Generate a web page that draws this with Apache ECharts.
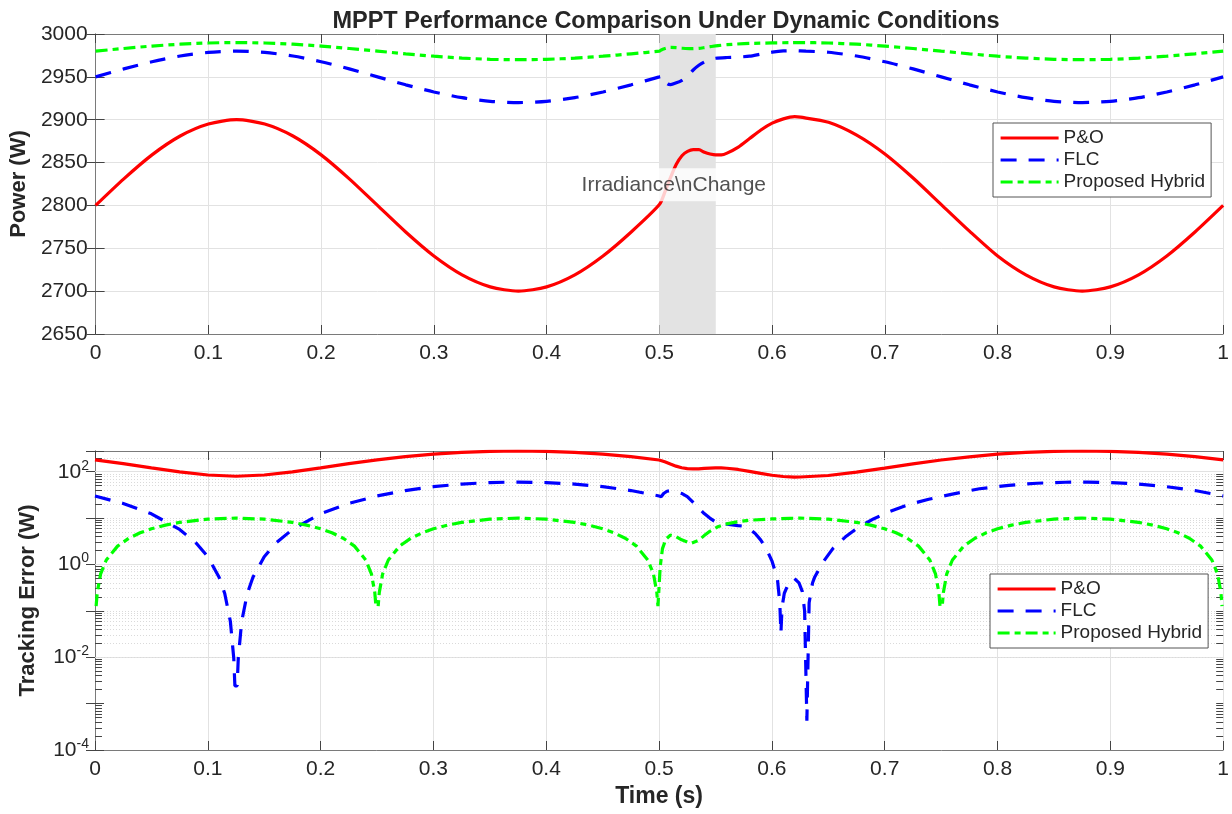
<!DOCTYPE html>
<html>
<head>
<meta charset="utf-8">
<script src="https://cdn.jsdelivr.net/npm/echarts@6/dist/echarts.min.js"></script>
<style>
  html, body { margin: 0; padding: 0; background: #fff; }
  #chart { width: 1232px; height: 814px; }
</style>
</head>
<body>
<div id="chart"></div>
<script>
// ---------------- DATA ----------------
const titleText = 'MPPT Performance Comparison Under Dynamic Conditions';
const seriesNames = ['P&O', 'FLC', 'Proposed Hybrid'];
const xTicks = [0, 1, 0.1];              // min, max, step of the time axis
const powerTicks = [2650, 3000, 50];     // min, max, step of the power axis
const errorRange = [1e-4, 280];          // log axis range of tracking error

// Shaded disturbance window and its annotation
const shadeWindow = [0.5, 0.55];
const annotationText = 'Irradiance\\nChange';
const annotationPos = [0.5128, 2824];

// P&O (time shared by power and error)
const poTime = [0,0.025,0.05,0.075,0.1,0.125,0.15,0.175,0.2,0.225,0.25,0.275,0.3,0.325,0.35,0.375,0.4,0.425,0.45,0.475,0.5,
  0.505,0.51,0.515,0.52,0.525,0.53,0.535,0.54,0.545,0.55,0.555,0.56,
  0.57,0.58,0.59,0.6,0.61,0.62,0.625,
  0.65,0.675,0.7,0.725,0.75,0.775,0.8,0.825,0.85,0.875,0.9,0.925,0.95,0.975,1];
const poPower = [2800,2831,2859,2881,2895,2900,2895,2881,2859,2831,2800,2769,2741,2719,2705,2700,2705,2719,2741,2769,2801,
  2816,2833,2848,2858,2863,2865,2865,2862,2860,2859,2859,2861,
  2868,2878,2888,2896,2901,2903.5,2903,
  2897,2882,2860,2832,2801,2770,2741,2719,2705,2700,2705,2719,2741,2769,2800];
const poError = [180,149,121,99,85,80,85,99,121,149,180,211,239,261,275,280,275,261,239,211,179,
  164,147,132,122,117,115,115,118,120,121,121,119,
  112,102,92,84,79,76.5,77,
  83,98,120,148,179,210,239,261,275,280,275,261,239,211,180];

// FLC power
const flcTime = [0,0.025,0.05,0.075,0.1,0.125,0.15,0.175,0.2,0.225,0.25,0.275,0.3,0.325,0.35,0.375,0.4,0.425,0.45,0.475,0.5,
  0.503,0.507,0.51,0.515,0.52,0.525,0.53,0.535,0.54,0.545,0.55,0.56,0.57,0.58,0.59,0.6,0.61,0.62,0.63,
  0.65,0.675,0.7,0.725,0.75,0.775,0.8,0.825,0.85,0.875,0.9,0.925,0.95,0.975,1];
const flcPower = [2950,2959.3,2967.6,2974.3,2978.5,2980,2978.5,2974.3,2967.6,2959.3,2950,2940.7,2932.4,2925.7,2921.5,2920,2921.5,2925.7,2932.4,2940.7,2950,
  2951,2942,2941,2943,2946,2951,2958,2963.5,2967.5,2970,2971.7,2972.6,2973.1,2974.1,2976.6,2978.8,2980.2,2980.5,2980,
  2978.7,2974.3,2967.6,2959.3,2950,2940.7,2932.4,2925.7,2921.5,2920,2921.5,2925.7,2932.4,2940.7,2950];

// FLC tracking error
const flcErrTime = [0,0.025,0.05,0.075,0.09,0.1,0.11,0.115,0.12,0.123,0.124,0.126,0.127,0.13,0.135,0.14,0.15,0.16,0.175,0.2,0.225,0.25,0.275,0.3,0.325,0.35,0.375,0.4,0.425,0.45,0.475,0.5,
  0.502,0.504,0.507,0.51,0.515,0.52,0.525,0.53,0.535,0.54,0.545,0.55,0.56,0.57,0.575,0.58,0.585,0.59,0.595,0.6,0.603,0.605,0.607,0.608,0.609,0.611,0.615,0.62,0.624,0.627,0.629,0.631,0.633,0.636,0.638,0.645,0.654,0.665,0.676,0.69,0.703,0.72,0.739,0.76,0.784,0.81,0.835,0.86,0.88,0.9,0.925,0.95,0.975,1];
const flcError = [30,20.7,12.4,5.7,2.84,1.47,0.53,0.237,0.059,0.0095,0.0024,0.0024,0.0095,0.059,0.237,0.53,1.47,2.84,5.7,12.4,20.7,30,39.3,47.6,54.3,58.5,60,58.5,54.3,47.6,39.3,30,
  29,34,38,39,37,34,29,22,16.5,12.5,10,8.3,7.4,6.9,6.7,5.9,4.7,3.4,2.2,1.2,0.7,0.46,0.15,0.033,0.12,0.24,0.4,0.5,0.4,0.26,0.1,0.00043,0.15,0.4,0.54,1.1,2.2,3.9,6.2,9.6,13.5,19.2,25.5,33,43,51,56.5,59.3,59.9,58.5,54.3,47.6,39.3,30];

// Proposed hybrid power
const hybTime = [0,0.025,0.05,0.075,0.1,0.125,0.15,0.175,0.2,0.225,0.25,0.275,0.3,0.325,0.35,0.375,0.4,0.425,0.45,0.475,0.5,
  0.501,0.503,0.506,0.51,0.515,0.52,0.528,0.535,0.54,0.545,0.552,0.56,0.569,0.58,0.6,0.616,0.625,
  0.65,0.675,0.7,0.725,0.75,0.775,0.8,0.825,0.85,0.875,0.9,0.925,0.95,0.975,1];
const hybPower = [2980,2983.1,2985.9,2988.1,2989.5,2990,2989.5,2988.1,2985.9,2983.1,2980,2976.9,2974.1,2971.9,2970.5,2970,2970.5,2971.9,2974.1,2976.9,2980,
  2980.9,2982.2,2983.5,2984.3,2984,2983.4,2982.85,2983.3,2984.2,2985.2,2986.5,2987.5,2988.3,2989,2989.6,2989.9,2990,
  2989.5,2988.1,2985.9,2983.1,2980,2976.9,2974.1,2971.9,2970.5,2970,2970.5,2971.9,2974.1,2976.9,2980];

// Proposed hybrid tracking error
const hybErrTime = [0.001,0.002,0.005,0.01,0.02,0.03,0.04,0.05,0.0625,0.075,0.1,0.125,0.15,0.175,0.1875,0.2,0.21,0.22,0.23,0.24,0.245,0.248,0.249,0.251,0.252,0.255,0.26,0.27,0.28,0.29,0.3,0.3125,0.325,0.35,0.375,0.4,0.425,0.4375,0.45,0.46,0.47,0.48,0.49,0.495,0.498,0.499,0.5,
  0.501,0.503,0.506,0.51,0.515,0.52,0.528,0.535,0.54,0.545,0.552,0.56,0.569,0.58,0.6,0.616,0.625,0.65,0.675,0.6875,0.7,0.71,0.72,0.73,0.74,0.745,0.748,0.749,0.751,0.752,0.755,0.76,0.77,0.78,0.79,0.8,0.8125,0.825,0.85,0.875,0.9,0.925,0.9375,0.95,0.96,0.97,0.98,0.99,0.995,0.998,0.999];
const hybError = [0.126,0.25,0.63,1.25,2.49,3.68,4.82,5.88,7.07,8.09,9.51,10,9.51,8.09,7.07,5.88,4.82,3.68,2.49,1.25,0.63,0.25,0.126,0.126,0.25,0.63,1.25,2.49,3.68,4.82,5.88,7.07,8.09,9.51,10,9.51,8.09,7.07,5.88,4.82,3.68,2.49,1.25,0.63,0.25,0.126,0.126,
  0.9,2.2,3.5,4.3,4.0,3.4,2.85,3.3,4.2,5.2,6.5,7.5,8.3,9.0,9.6,9.9,10,9.51,8.09,7.07,5.88,4.82,3.68,2.49,1.25,0.63,0.25,0.126,0.126,0.25,0.63,1.25,2.49,3.68,4.82,5.88,7.07,8.09,9.51,10,9.51,8.09,7.07,5.88,4.82,3.68,2.49,1.25,0.63,0.25,0.126];

// ---------------- STYLE ----------------
const FONT = '"Liberation Sans", Arial, Helvetica, sans-serif';
const TXT = '#262626';
const AXIS = '#7a7a7a';
const TICK = '#444';
const GRIDC = '#e2e2e2';
const MINORC = '#dadada';
const colors = ['#ff0000', '#0000ff', '#00ff00'];
const dashes = ['solid', [16, 12], [12, 5, 6, 5]];
const LW = 3.2;
const TICKFS = 21;

const zip = (a, b) => a.map((v, i) => [v, b[i]]);

// log-axis grid lines (major at labelled decades, minor dotted elsewhere)
const lo = Math.round(Math.log10(errorRange[0]));
const majorVals = [], minorVals = [];
for (let e = lo; e <= 3; e++) {
  const base = Math.pow(10, e);
  if (base <= errorRange[1]) (e % 2 === 0 ? majorVals : minorVals).push(base);
  for (let m = 2; m <= 9; m++) {
    const v = m * base;
    if (v < errorRange[1]) minorVals.push(v);
  }
}
const tickLen = 7 / 1133;
const minorTickSegs = [];
minorVals.forEach(v => {
  minorTickSegs.push([{ coord: [xTicks[0], v] }, { coord: [xTicks[0] + tickLen, v] }]);
  minorTickSegs.push([{ coord: [xTicks[1], v] }, { coord: [xTicks[1] - tickLen, v] }]);
});

function xAxisCfg(gridIndex, pos, showLabels, name) {
  return {
    type: 'value', gridIndex, position: pos, min: xTicks[0], max: xTicks[1], interval: xTicks[2],
    name: name || '', nameLocation: 'middle', nameGap: 35,
    nameTextStyle: { fontFamily: FONT, fontSize: 23, fontWeight: 'bold', color: TXT },
    axisLine: { show: true, lineStyle: { color: AXIS, width: 1 } },
    axisTick: { show: true, inside: true, length: 9, lineStyle: { color: TICK, width: 1 } },
    axisLabel: { show: showLabels, fontFamily: FONT, fontSize: TICKFS, color: TXT, margin: 9 },
    splitLine: { show: showLabels, lineStyle: { color: GRIDC, width: 1 } }
  };
}

const labelFmtLog = v => {
  const e = Math.log10(v);
  const r = Math.round(e);
  if (Math.abs(e - r) > 1e-6 || r % 2 !== 0) return '';
  return '{b|10}{s|' + r + '}';
};

const option = {
  animation: false,
  backgroundColor: '#ffffff',
  title: {
    text: titleText, left: 661, top: 5, textAlign: 'center',
    textStyle: { fontFamily: FONT, fontSize: 23.5, fontWeight: 'bold', color: TXT }
  },
  grid: [
    { left: 95, right: 4, top: 34, height: 300 },
    { left: 95, right: 4, top: 451, height: 299 }
  ],
  legend: [0, 1].map(i => ({
    data: seriesNames,
    orient: 'vertical',
    left: i === 0 ? 993 : 990,
    top: i === 0 ? 123 : 574,
    z: 20,
    padding: [4, 6, 4, 6],
    itemGap: 0,
    itemWidth: 58,
    itemHeight: 14,
    backgroundColor: '#fff',
    borderColor: '#555',
    borderWidth: 1,
    borderRadius: 0,
    textStyle: { fontFamily: FONT, fontSize: 19, color: TXT, lineHeight: 22 },
    itemStyle: { opacity: 0 },
    lineStyle: { width: LW },
    selectedMode: false
  })),
  xAxis: [
    xAxisCfg(0, 'bottom', true),
    xAxisCfg(0, 'top', false),
    xAxisCfg(1, 'bottom', true, 'Time (s)'),
    xAxisCfg(1, 'top', false)
  ],
  yAxis: [
    {
      type: 'value', gridIndex: 0, position: 'left', min: powerTicks[0], max: powerTicks[1], interval: powerTicks[2],
      name: 'Power (W)', nameLocation: 'middle', nameGap: 60,
      nameTextStyle: { fontFamily: FONT, fontSize: 22, fontWeight: 'bold', color: TXT },
      axisLine: { show: true, lineStyle: { color: AXIS } },
      axisTick: { show: true, inside: true, length: 9, lineStyle: { color: TICK } },
      axisLabel: { fontFamily: FONT, fontSize: TICKFS, color: TXT, margin: 8, formatter: v => String(v) },
      splitLine: { show: true, lineStyle: { color: GRIDC } }
    },
    {
      type: 'value', gridIndex: 0, position: 'right', min: powerTicks[0], max: powerTicks[1], interval: powerTicks[2],
      axisLine: { show: true, lineStyle: { color: AXIS } },
      axisTick: { show: true, inside: true, length: 9, lineStyle: { color: TICK } },
      axisLabel: { show: false }, splitLine: { show: false }
    },
    {
      type: 'log', logBase: 10, gridIndex: 1, position: 'left', min: errorRange[0], max: errorRange[1],
      name: 'Tracking Error (W)', nameLocation: 'middle', nameGap: 56,
      nameTextStyle: { fontFamily: FONT, fontSize: 22, fontWeight: 'bold', color: TXT },
      axisLine: { show: true, lineStyle: { color: AXIS } },
      axisTick: { show: true, inside: true, length: 9, lineStyle: { color: TICK } },
      axisLabel: {
        fontFamily: FONT, color: TXT, margin: 6, formatter: labelFmtLog,
        rich: {
          b: { fontFamily: FONT, fontSize: TICKFS, color: TXT },
          s: { fontFamily: FONT, fontSize: 14, color: TXT, padding: [0, 0, 12, 0] }
        }
      },
      splitLine: { show: false }
    },
    {
      type: 'log', logBase: 10, gridIndex: 1, position: 'right', min: errorRange[0], max: errorRange[1],
      axisLine: { show: true, lineStyle: { color: AXIS } },
      axisTick: { show: true, inside: true, length: 9, lineStyle: { color: TICK } },
      axisLabel: { show: false }, splitLine: { show: false }
    }
  ],
  series: [
    // helper: shaded window in the power panel
    {
      type: 'line', xAxisIndex: 0, yAxisIndex: 0, data: [], silent: true, z: 1,
      markArea: {
        silent: true, z: 1,
        itemStyle: { color: '#e3e3e3', opacity: 1 },
        data: [[{ xAxis: shadeWindow[0] }, { xAxis: shadeWindow[1] }]]
      }
    },
    // helper: log grid lines and minor ticks in the error panel
    {
      type: 'line', xAxisIndex: 2, yAxisIndex: 2, data: [], silent: true, z: 1,
      markLine: {
        silent: true, symbol: 'none', animation: false, z: 1,
        label: { show: false },
        data: [
          ...majorVals.map(v => ({ yAxis: v, lineStyle: { color: GRIDC, width: 1, type: 'solid' } })),
          ...minorVals.map(v => ({ yAxis: v, lineStyle: { color: MINORC, width: 1, type: [1, 2] } })),
          ...minorTickSegs.map(s => [Object.assign({ lineStyle: { color: TICK, width: 1, type: 'solid' } }, s[0]), s[1]])
        ]
      }
    },
    // power panel
    ...[[poTime, poPower], [flcTime, flcPower], [hybTime, hybPower]].map((d, i) => ({
      name: seriesNames[i], type: 'line', xAxisIndex: 0, yAxisIndex: 0,
      data: zip(d[0], d[1]), showSymbol: false, symbol: 'none', smooth: 0.25, z: 3,
      lineStyle: { color: colors[i], width: LW, type: dashes[i], cap: 'butt' },
      itemStyle: { color: colors[i] }
    })),
    // error panel
    ...[[poTime, poError], [flcErrTime, flcError], [hybErrTime, hybError]].map((d, i) => ({
      name: seriesNames[i], type: 'line', xAxisIndex: 2, yAxisIndex: 2,
      data: zip(d[0], d[1]), showSymbol: false, symbol: 'none', smooth: false, z: 3,
      lineStyle: { color: colors[i], width: LW, type: dashes[i], cap: 'butt' },
      itemStyle: { color: colors[i] }
    })),
    // annotation text box
    {
      type: 'scatter', xAxisIndex: 0, yAxisIndex: 0, z: 10, silent: true,
      symbolSize: 0,
      data: [annotationPos],
      label: {
        show: true, position: 'inside', formatter: annotationText,
        fontFamily: FONT, fontSize: 21, color: TXT,
        backgroundColor: '#ffffff', padding: [6, 5]
      }
    }
  ]
};

const chart = echarts.init(document.getElementById('chart'), null, { renderer: 'canvas' });
chart.setOption(option);
</script>
</body>
</html>
